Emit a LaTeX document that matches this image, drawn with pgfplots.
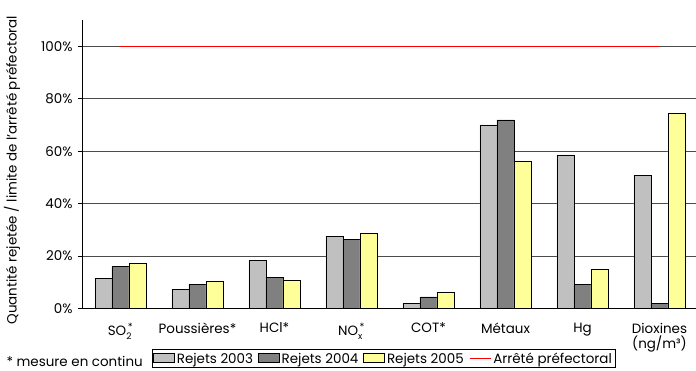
\documentclass[border=0pt]{standalone}
\usepackage{pgfplots}
\pgfplotsset{compat=1.18}
\usepackage{fontspec}
\setmainfont{Poppins}
\definecolor{g03}{HTML}{C0C0C0}
\definecolor{g04}{HTML}{808080}
\definecolor{y05}{HTML}{FFFF99}
\definecolor{limite}{HTML}{FF0000}
% subscript / superscript pair set in the text font
\newcommand{\subsup}[2]{$_{\hbox{\fontsize{9}{9}\selectfont #1}}^{\,\hbox{\fontsize{10}{10}\selectfont #2}}$}
\begin{document}
\begin{tikzpicture}[font=\fontsize{13.5}{15}\selectfont]
\begin{axis}[
  at={(0,0)}, anchor=south west,
  scale only axis, width=616bp, height=288.5bp,
  xmin=-0.5, xmax=7.5, ymin=0, ymax=110,
  ybar=0pt, bar width=17bp,
  axis x line*=bottom, axis y line*=left,
  axis line style={black, line width=0.8pt},
  xtick={0,...,7},
  xticklabels={SO\subsup{2}{*}, Poussières*, HCl*, NO\subsup{x}{*}, COT*, Métaux, Hg, {Dioxines\\(ng/m³)}},
  xticklabel style={align=center, anchor=north, yshift=-7bp},
  major x tick style={draw=none},
  extra x ticks={0.5,1.5,2.5,3.5,4.5,5.5,6.5},
  extra x tick labels={},
  extra x tick style={major tick length=4bp, tick style={black, line width=0.8pt}},
  tick align=outside,
  ytick={0,20,40,60,80,100},
  major y tick style={black, line width=0.8pt},
  major tick length=4bp,
  yticklabel style={xshift=-2bp},
  ymajorgrids, grid style={black!70, line width=0.7pt},
  /pgf/number format/assume math mode=true,
  yticklabel={\pgfmathprintnumber{\tick}\%},
  ylabel={Quantité rejetée / limite de l'arrêté préfectoral},
  ylabel style={at={(axis description cs:-0.1136,0.48)}, anchor=center},
  legend columns=4,
  legend style={at={(axis description cs:0.4895,-0.142)}, anchor=north,
    draw=black, line width=0.6pt, inner sep=1bp,
    /tikz/every even column/.append style={column sep=3bp}},
  legend cell align=left,
]
\addplot[fill=g03, draw=black, line width=0.6pt,
  legend image code/.code={\draw[fill=g03, draw=black, line width=0.6pt] (0bp,-4bp) rectangle (21bp,5bp);}]
  coordinates {(0,11.5) (1,7.4) (2,18.3) (3,27.4) (4,2.0) (5,70.0) (6,58.6) (7,50.9)};
\addlegendentry{Rejets 2003}
\addplot[fill=g04, draw=black, line width=0.6pt,
  legend image code/.code={\draw[fill=g04, draw=black, line width=0.6pt] (0bp,-4bp) rectangle (21bp,5bp);}]
  coordinates {(0,16.0) (1,9.2) (2,11.9) (3,26.4) (4,4.4) (5,71.9) (6,9.2) (7,2.0)};
\addlegendentry{Rejets 2004}
\addplot[fill=y05, draw=black, line width=0.6pt,
  legend image code/.code={\draw[fill=y05, draw=black, line width=0.6pt] (0bp,-4bp) rectangle (21bp,5bp);}]
  coordinates {(0,17.3) (1,10.3) (2,10.9) (3,28.7) (4,6.2) (5,56.1) (6,15.0) (7,74.4)};
\addlegendentry{Rejets 2005}
\addplot[sharp plot, draw=limite, line width=1.2pt,
  legend image code/.code={\draw[draw=limite, line width=1.5pt] (0bp,0.5bp) -- (21bp,0.5bp);}]
  coordinates {(0,100) (7,100)};
\addlegendentry{Arrêté préfectoral}
\end{axis}
\node[anchor=west] at (-79bp,-53bp) {* mesure en continu};
\pgfresetboundingbox
\useasboundingbox (-82bp,-62.5bp) rectangle (614bp,308.5bp);
\end{tikzpicture}
\end{document}
